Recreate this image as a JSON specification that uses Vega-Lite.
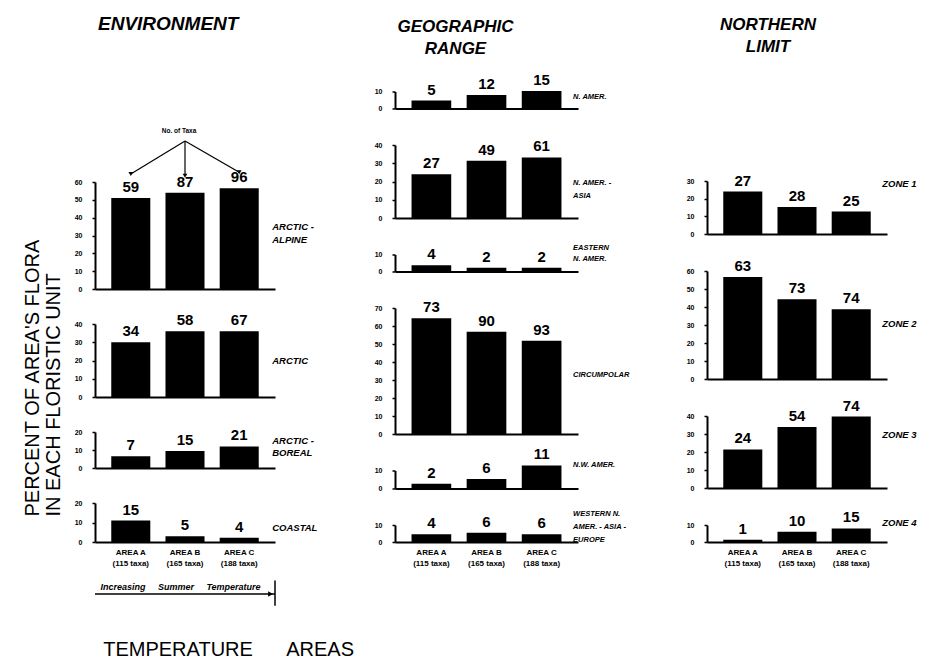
{
  "$schema": "https://vega.github.io/schema/vega-lite/v6.json",
  "background": "white",
  "padding": {"left": 23, "top": 15, "right": 5, "bottom": 0},
  "data": {"values": [
    {"panel": "AA", "area": "AREA A", "pct": 51, "n": 59},
    {"panel": "AA", "area": "AREA B", "pct": 54, "n": 87},
    {"panel": "AA", "area": "AREA C", "pct": 56.5, "n": 96},
    {"panel": "AR", "area": "AREA A", "pct": 30, "n": 34},
    {"panel": "AR", "area": "AREA B", "pct": 36, "n": 58},
    {"panel": "AR", "area": "AREA C", "pct": 36, "n": 67},
    {"panel": "AB", "area": "AREA A", "pct": 6.5, "n": 7},
    {"panel": "AB", "area": "AREA B", "pct": 9.5, "n": 15},
    {"panel": "AB", "area": "AREA C", "pct": 12, "n": 21},
    {"panel": "CO", "area": "AREA A", "pct": 11, "n": 15},
    {"panel": "CO", "area": "AREA B", "pct": 3, "n": 5},
    {"panel": "CO", "area": "AREA C", "pct": 2.2, "n": 4},
    {"panel": "NA", "area": "AREA A", "pct": 4.7, "n": 5},
    {"panel": "NA", "area": "AREA B", "pct": 8, "n": 12},
    {"panel": "NA", "area": "AREA C", "pct": 10.3, "n": 15},
    {"panel": "NAA", "area": "AREA A", "pct": 24, "n": 27},
    {"panel": "NAA", "area": "AREA B", "pct": 31.4, "n": 49},
    {"panel": "NAA", "area": "AREA C", "pct": 33.2, "n": 61},
    {"panel": "EN", "area": "AREA A", "pct": 3.7, "n": 4},
    {"panel": "EN", "area": "AREA B", "pct": 2.2, "n": 2},
    {"panel": "EN", "area": "AREA C", "pct": 2.2, "n": 2},
    {"panel": "CI", "area": "AREA A", "pct": 64.3, "n": 73},
    {"panel": "CI", "area": "AREA B", "pct": 56.8, "n": 90},
    {"panel": "CI", "area": "AREA C", "pct": 51.8, "n": 93},
    {"panel": "NW", "area": "AREA A", "pct": 2.6, "n": 2},
    {"panel": "NW", "area": "AREA B", "pct": 5.3, "n": 6},
    {"panel": "NW", "area": "AREA C", "pct": 12.8, "n": 11},
    {"panel": "WE", "area": "AREA A", "pct": 4.6, "n": 4},
    {"panel": "WE", "area": "AREA B", "pct": 5.5, "n": 6},
    {"panel": "WE", "area": "AREA C", "pct": 4.6, "n": 6},
    {"panel": "Z1", "area": "AREA A", "pct": 24, "n": 27},
    {"panel": "Z1", "area": "AREA B", "pct": 15.3, "n": 28},
    {"panel": "Z1", "area": "AREA C", "pct": 12.7, "n": 25},
    {"panel": "Z2", "area": "AREA A", "pct": 56.7, "n": 63},
    {"panel": "Z2", "area": "AREA B", "pct": 44.3, "n": 73},
    {"panel": "Z2", "area": "AREA C", "pct": 38.7, "n": 74},
    {"panel": "Z3", "area": "AREA A", "pct": 21.4, "n": 24},
    {"panel": "Z3", "area": "AREA B", "pct": 33.9, "n": 54},
    {"panel": "Z3", "area": "AREA C", "pct": 39.7, "n": 74},
    {"panel": "Z4", "area": "AREA A", "pct": 1.3, "n": 1},
    {"panel": "Z4", "area": "AREA B", "pct": 6, "n": 10},
    {"panel": "Z4", "area": "AREA C", "pct": 8, "n": 15}
  ]},
  "title": {"text": "TEMPERATURE\u00a0\u00a0\u00a0\u00a0\u00a0\u00a0AREAS", "orient": "bottom", "anchor": "start", "baseline": "top", "dx": 80, "offset": 33, "fontSize": 20, "fontWeight": "normal", "color": "black"},
  "vconcat": [
    {
      "title": {"text": ["PERCENT OF AREA'S FLORA", "IN EACH FLORISTIC UNIT"], "orient": "left", "anchor": "start", "dx": 90, "offset": 10, "fontSize": 20, "fontWeight": "normal", "lineHeight": 21, "color": "black"},
      "spacing": 56,
      "hconcat": [
        {
          "bounds": "flush",
          "spacing": 35,
          "vconcat": [
            {
              "width": 180, "height": 96,
              "title": {"text": "ENVIRONMENT", "anchor": "start", "dx": 3, "offset": -2, "baseline": "bottom", "fontSize": 19, "fontStyle": "italic", "fontWeight": "bold"},
              "data": {"values": []},
              "mark": {"type": "point", "opacity": 0},
              "encoding": {}
            },
            {
              "width": 180, "height": 107,
              "transform": [{"filter": "datum.panel == 'AA'"}],
              "encoding": {
                "x": {"field": "area", "type": "nominal", "scale": {"paddingInner": 0.28, "paddingOuter": 0.3}, "axis": {"labels": false, "title": null}},
                "y": {"field": "pct", "type": "quantitative", "scale": {"domain": [0, 60], "nice": false}, "axis": {"values": [0, 10, 20, 30, 40, 50, 60], "title": null}}
              },
              "layer": [
                {"mark": {"type": "bar"}},
                {"mark": {"type": "text", "baseline": "bottom", "dy": -3, "fontSize": 15, "fontWeight": "bold"}, "encoding": {"text": {"field": "n"}}},
                {
                  "data": {"values": [
                    {"arrow": "a", "area": "AREA B", "h": 83}, {"arrow": "a", "area": "AREA A", "h": 64.5},
                    {"arrow": "b", "area": "AREA B", "h": 83}, {"arrow": "b", "area": "AREA B", "h": 63.5},
                    {"arrow": "c", "area": "AREA B", "h": 83}, {"arrow": "c", "area": "AREA C", "h": 65.5}
                  ]},
                  "mark": {"type": "line", "strokeWidth": 1.2},
                  "encoding": {"y": {"field": "h", "type": "quantitative", "scale": {"domain": [0, 60], "nice": false}}, "detail": {"field": "arrow"}, "order": {"field": "h"}}
                },
                {
                  "data": {"values": [
                    {"arrow": "a", "area": "AREA A", "h": 64.5},
                    {"arrow": "b", "area": "AREA B", "h": 63.5},
                    {"arrow": "c", "area": "AREA C", "h": 65.5}
                  ]},
                  "mark": {"type": "point", "shape": "triangle-down", "filled": true, "size": 22, "opacity": 1},
                  "encoding": {"y": {"field": "h", "type": "quantitative", "scale": {"domain": [0, 60], "nice": false}}}
                },
                {
                  "data": {"values": [{"area": "AREA B", "label": "No. of Taxa", "h": 86.5}]},
                  "mark": {"type": "text", "fontSize": 6.5, "fontWeight": "bold", "baseline": "bottom", "dx": -6, "dy": -1},
                  "encoding": {"y": {"field": "h", "type": "quantitative", "scale": {"domain": [0, 60], "nice": false}}, "text": {"field": "label"}}
                },
                {
                  "data": {"values": [{"area": "AREA C", "label": "ARCTIC -\nALPINE", "h": 35}]},
                  "mark": {"type": "text", "align": "left", "baseline": "middle", "lineBreak": "\n", "dx": 33, "fontSize": 9.5, "fontStyle": "italic", "fontWeight": "bold", "lineHeight": 13},
                  "encoding": {"y": {"field": "h", "type": "quantitative", "scale": {"domain": [0, 60], "nice": false}}, "text": {"field": "label"}}
                }
              ]
            },
            {
              "width": 180, "height": 73,
              "transform": [{"filter": "datum.panel == 'AR'"}],
              "encoding": {
                "x": {"field": "area", "type": "nominal", "scale": {"paddingInner": 0.28, "paddingOuter": 0.3}, "axis": {"labels": false, "title": null}},
                "y": {"field": "pct", "type": "quantitative", "scale": {"domain": [0, 40], "nice": false}, "axis": {"values": [0, 10, 20, 30, 40], "title": null}}
              },
              "layer": [
                {"mark": {"type": "bar"}},
                {"mark": {"type": "text", "baseline": "bottom", "dy": -3, "fontSize": 15, "fontWeight": "bold"}, "encoding": {"text": {"field": "n"}}},
                {
                  "data": {"values": [{"area": "AREA C", "label": "ARCTIC", "h": 20}]},
                  "mark": {"type": "text", "align": "left", "baseline": "middle", "lineBreak": "\n", "dx": 33, "fontSize": 9.5, "fontStyle": "italic", "fontWeight": "bold", "lineHeight": 13},
                  "encoding": {"y": {"field": "h", "type": "quantitative", "scale": {"domain": [0, 40], "nice": false}}, "text": {"field": "label"}}
                }
              ]
            },
            {
              "width": 180, "height": 36,
              "transform": [{"filter": "datum.panel == 'AB'"}],
              "encoding": {
                "x": {"field": "area", "type": "nominal", "scale": {"paddingInner": 0.28, "paddingOuter": 0.3}, "axis": {"labels": false, "title": null}},
                "y": {"field": "pct", "type": "quantitative", "scale": {"domain": [0, 20], "nice": false}, "axis": {"values": [0, 10, 20], "title": null}}
              },
              "layer": [
                {"mark": {"type": "bar"}},
                {"mark": {"type": "text", "baseline": "bottom", "dy": -3, "fontSize": 15, "fontWeight": "bold"}, "encoding": {"text": {"field": "n"}}},
                {
                  "data": {"values": [{"area": "AREA C", "label": "ARCTIC -\nBOREAL", "h": 15}]},
                  "mark": {"type": "text", "align": "left", "baseline": "middle", "lineBreak": "\n", "dx": 33, "fontSize": 9.5, "fontStyle": "italic", "fontWeight": "bold", "lineHeight": 12},
                  "encoding": {"y": {"field": "h", "type": "quantitative", "scale": {"domain": [0, 20], "nice": false}}, "text": {"field": "label"}}
                }
              ]
            },
            {
              "width": 180, "height": 39,
              "transform": [{"filter": "datum.panel == 'CO'"}],
              "encoding": {
                "x": {"field": "area", "type": "nominal", "scale": {"paddingInner": 0.28, "paddingOuter": 0.3}, "axis": {"labels": true, "title": null, "labelExpr": "[datum.label, datum.label == 'AREA A' ? '(115 taxa)' : datum.label == 'AREA B' ? '(165 taxa)' : '(188 taxa)']"}},
                "y": {"field": "pct", "type": "quantitative", "scale": {"domain": [0, 20], "nice": false}, "axis": {"values": [0, 10, 20], "title": null}}
              },
              "layer": [
                {"mark": {"type": "bar"}},
                {"mark": {"type": "text", "baseline": "bottom", "dy": -3, "fontSize": 15, "fontWeight": "bold"}, "encoding": {"text": {"field": "n"}}},
                {
                  "data": {"values": [{"area": "AREA C", "label": "COASTAL", "h": 7}]},
                  "mark": {"type": "text", "align": "left", "baseline": "middle", "lineBreak": "\n", "dx": 33, "fontSize": 9.5, "fontStyle": "italic", "fontWeight": "bold", "lineHeight": 13},
                  "encoding": {"y": {"field": "h", "type": "quantitative", "scale": {"domain": [0, 20], "nice": false}}, "text": {"field": "label"}}
                }
              ]
            },
            {
              "width": 180, "height": 24,
              "data": {"values": [{"label": "Increasing\u00a0\u00a0\u00a0\u00a0\u00a0Summer\u00a0\u00a0\u00a0\u00a0\u00a0Temperature"}]},
              "layer": [
                {"mark": {"type": "rule", "strokeWidth": 1.5}, "encoding": {"x": {"datum": 0, "type": "quantitative", "scale": {"domain": [0, 1], "nice": false}, "axis": null}, "x2": {"datum": 1}, "y": {"datum": 0.29, "type": "quantitative", "scale": {"domain": [0, 1], "nice": false}, "axis": null}}},
                {"mark": {"type": "rule", "strokeWidth": 1.5}, "encoding": {"x": {"datum": 1, "type": "quantitative", "scale": {"domain": [0, 1], "nice": false}, "axis": null}, "y": {"datum": -0.2, "type": "quantitative", "scale": {"domain": [0, 1], "nice": false}, "axis": null}, "y2": {"datum": 0.85}}},
                {"mark": {"type": "point", "shape": "triangle-right", "filled": true, "size": 30, "opacity": 1}, "encoding": {"x": {"datum": 0.975, "type": "quantitative", "scale": {"domain": [0, 1], "nice": false}, "axis": null}, "y": {"datum": 0.29, "type": "quantitative", "scale": {"domain": [0, 1], "nice": false}, "axis": null}}},
                {"mark": {"type": "text", "align": "left", "baseline": "bottom", "dy": -2, "fontSize": 9, "fontStyle": "italic", "fontWeight": "bold"}, "encoding": {"x": {"datum": 0.03, "type": "quantitative", "scale": {"domain": [0, 1], "nice": false}, "axis": null}, "y": {"datum": 0.29, "type": "quantitative", "scale": {"domain": [0, 1], "nice": false}, "axis": null}, "text": {"field": "label"}}}
              ]
            }
          ]
        },
        {
          "bounds": "flush",
          "spacing": 36.5,
          "vconcat": [
            {
              "width": 183, "height": 3.5,
              "title": {"text": ["GEOGRAPHIC", "RANGE"], "anchor": "middle", "dx": -31, "offset": -24, "baseline": "bottom", "lineHeight": 22, "fontSize": 17, "fontStyle": "italic", "fontWeight": "bold"},
              "data": {"values": []},
              "mark": {"type": "point", "opacity": 0},
              "encoding": {}
            },
            {
              "width": 183, "height": 17,
              "transform": [{"filter": "datum.panel == 'NA'"}],
              "encoding": {
                "x": {"field": "area", "type": "nominal", "scale": {"paddingInner": 0.28, "paddingOuter": 0.3}, "axis": {"labels": false, "title": null}},
                "y": {"field": "pct", "type": "quantitative", "scale": {"domain": [0, 10], "nice": false}, "axis": {"values": [0, 10], "title": null}}
              },
              "layer": [
                {"mark": {"type": "bar"}},
                {"mark": {"type": "text", "baseline": "bottom", "dy": -3, "fontSize": 15, "fontWeight": "bold"}, "encoding": {"text": {"field": "n"}}},
                {
                  "data": {"values": [{"area": "AREA C", "label": "N. AMER.", "h": 7}]},
                  "mark": {"type": "text", "align": "left", "baseline": "middle", "lineBreak": "\n", "dx": 31.5, "fontSize": 7.5, "fontStyle": "italic", "fontWeight": "bold", "lineHeight": 12},
                  "encoding": {"y": {"field": "h", "type": "quantitative", "scale": {"domain": [0, 10], "nice": false}}, "text": {"field": "label"}}
                }
              ]
            },
            {
              "width": 183, "height": 73,
              "transform": [{"filter": "datum.panel == 'NAA'"}],
              "encoding": {
                "x": {"field": "area", "type": "nominal", "scale": {"paddingInner": 0.28, "paddingOuter": 0.3}, "axis": {"labels": false, "title": null}},
                "y": {"field": "pct", "type": "quantitative", "scale": {"domain": [0, 40], "nice": false}, "axis": {"values": [0, 10, 20, 30, 40], "title": null}}
              },
              "layer": [
                {"mark": {"type": "bar"}},
                {"mark": {"type": "text", "baseline": "bottom", "dy": -3, "fontSize": 15, "fontWeight": "bold"}, "encoding": {"text": {"field": "n"}}},
                {
                  "data": {"values": [{"area": "AREA C", "label": "N. AMER. -\nASIA", "h": 19}]},
                  "mark": {"type": "text", "align": "left", "baseline": "middle", "lineBreak": "\n", "dx": 31.5, "fontSize": 7.5, "fontStyle": "italic", "fontWeight": "bold", "lineHeight": 13},
                  "encoding": {"y": {"field": "h", "type": "quantitative", "scale": {"domain": [0, 40], "nice": false}}, "text": {"field": "label"}}
                }
              ]
            },
            {
              "width": 183, "height": 17,
              "transform": [{"filter": "datum.panel == 'EN'"}],
              "encoding": {
                "x": {"field": "area", "type": "nominal", "scale": {"paddingInner": 0.28, "paddingOuter": 0.3}, "axis": {"labels": false, "title": null}},
                "y": {"field": "pct", "type": "quantitative", "scale": {"domain": [0, 10], "nice": false}, "axis": {"values": [0, 10], "title": null}}
              },
              "layer": [
                {"mark": {"type": "bar"}},
                {"mark": {"type": "text", "baseline": "bottom", "dy": -3, "fontSize": 15, "fontWeight": "bold"}, "encoding": {"text": {"field": "n"}}},
                {
                  "data": {"values": [{"area": "AREA C", "label": "EASTERN\nN. AMER.", "h": 13.7}]},
                  "mark": {"type": "text", "align": "left", "baseline": "middle", "lineBreak": "\n", "dx": 31.5, "fontSize": 7.5, "fontStyle": "italic", "fontWeight": "bold", "lineHeight": 11},
                  "encoding": {"y": {"field": "h", "type": "quantitative", "scale": {"domain": [0, 10], "nice": false}}, "text": {"field": "label"}}
                }
              ]
            },
            {
              "width": 183, "height": 126,
              "transform": [{"filter": "datum.panel == 'CI'"}],
              "encoding": {
                "x": {"field": "area", "type": "nominal", "scale": {"paddingInner": 0.28, "paddingOuter": 0.3}, "axis": {"labels": false, "title": null}},
                "y": {"field": "pct", "type": "quantitative", "scale": {"domain": [0, 70], "nice": false}, "axis": {"values": [0, 10, 20, 30, 40, 50, 60, 70], "title": null}}
              },
              "layer": [
                {"mark": {"type": "bar"}},
                {"mark": {"type": "text", "baseline": "bottom", "dy": -3, "fontSize": 15, "fontWeight": "bold"}, "encoding": {"text": {"field": "n"}}},
                {
                  "data": {"values": [{"area": "AREA C", "label": "CIRCUMPOLAR", "h": 33}]},
                  "mark": {"type": "text", "align": "left", "baseline": "middle", "lineBreak": "\n", "dx": 31.5, "fontSize": 7.5, "fontStyle": "italic", "fontWeight": "bold", "lineHeight": 12},
                  "encoding": {"y": {"field": "h", "type": "quantitative", "scale": {"domain": [0, 70], "nice": false}}, "text": {"field": "label"}}
                }
              ]
            },
            {
              "width": 183, "height": 18,
              "transform": [{"filter": "datum.panel == 'NW'"}],
              "encoding": {
                "x": {"field": "area", "type": "nominal", "scale": {"paddingInner": 0.28, "paddingOuter": 0.3}, "axis": {"labels": false, "title": null}},
                "y": {"field": "pct", "type": "quantitative", "scale": {"domain": [0, 10], "nice": false}, "axis": {"values": [0, 10], "title": null}}
              },
              "layer": [
                {"mark": {"type": "bar"}},
                {"mark": {"type": "text", "baseline": "bottom", "dy": -3, "fontSize": 15, "fontWeight": "bold"}, "encoding": {"text": {"field": "n"}}},
                {
                  "data": {"values": [{"area": "AREA C", "label": "N.W. AMER.", "h": 12.8}]},
                  "mark": {"type": "text", "align": "left", "baseline": "middle", "lineBreak": "\n", "dx": 31.5, "fontSize": 7.5, "fontStyle": "italic", "fontWeight": "bold", "lineHeight": 12},
                  "encoding": {"y": {"field": "h", "type": "quantitative", "scale": {"domain": [0, 10], "nice": false}}, "text": {"field": "label"}}
                }
              ]
            },
            {
              "width": 183, "height": 17,
              "transform": [{"filter": "datum.panel == 'WE'"}],
              "encoding": {
                "x": {"field": "area", "type": "nominal", "scale": {"paddingInner": 0.28, "paddingOuter": 0.3}, "axis": {"labels": true, "title": null, "labelExpr": "[datum.label, datum.label == 'AREA A' ? '(115 taxa)' : datum.label == 'AREA B' ? '(165 taxa)' : '(188 taxa)']"}},
                "y": {"field": "pct", "type": "quantitative", "scale": {"domain": [0, 10], "nice": false}, "axis": {"values": [0, 10], "title": null}}
              },
              "layer": [
                {"mark": {"type": "bar"}},
                {"mark": {"type": "text", "baseline": "bottom", "dy": -3, "fontSize": 15, "fontWeight": "bold"}, "encoding": {"text": {"field": "n"}}},
                {
                  "data": {"values": [{"area": "AREA C", "label": "WESTERN N.\nAMER. - ASIA -\nEUROPE", "h": 16.4}]},
                  "mark": {"type": "text", "align": "left", "baseline": "middle", "lineBreak": "\n", "dx": 31.5, "fontSize": 7.5, "fontStyle": "italic", "fontWeight": "bold", "lineHeight": 13},
                  "encoding": {"y": {"field": "h", "type": "quantitative", "scale": {"domain": [0, 10], "nice": false}}, "text": {"field": "label"}}
                }
              ]
            }
          ]
        },
        {
          "bounds": "flush",
          "spacing": 37,
          "vconcat": [
            {
              "width": 180, "height": 93,
              "title": {"text": ["NORTHERN", "LIMIT"], "anchor": "middle", "dx": -29, "offset": -22, "baseline": "bottom", "lineHeight": 22, "fontSize": 17, "fontStyle": "italic", "fontWeight": "bold"},
              "data": {"values": []},
              "mark": {"type": "point", "opacity": 0},
              "encoding": {}
            },
            {
              "width": 180, "height": 53,
              "transform": [{"filter": "datum.panel == 'Z1'"}],
              "encoding": {
                "x": {"field": "area", "type": "nominal", "scale": {"paddingInner": 0.28, "paddingOuter": 0.3}, "axis": {"labels": false, "title": null}},
                "y": {"field": "pct", "type": "quantitative", "scale": {"domain": [0, 30], "nice": false}, "axis": {"values": [0, 10, 20, 30], "title": null}}
              },
              "layer": [
                {"mark": {"type": "bar"}},
                {"mark": {"type": "text", "baseline": "bottom", "dy": -3, "fontSize": 15, "fontWeight": "bold"}, "encoding": {"text": {"field": "n"}}},
                {
                  "data": {"values": [{"area": "AREA C", "label": "ZONE 1", "h": 28.3}]},
                  "mark": {"type": "text", "align": "left", "baseline": "middle", "dx": 31, "fontSize": 9.5, "fontStyle": "italic", "fontWeight": "bold"},
                  "encoding": {"y": {"field": "h", "type": "quantitative", "scale": {"domain": [0, 30], "nice": false}}, "text": {"field": "label"}}
                }
              ]
            },
            {
              "width": 180, "height": 108,
              "transform": [{"filter": "datum.panel == 'Z2'"}],
              "encoding": {
                "x": {"field": "area", "type": "nominal", "scale": {"paddingInner": 0.28, "paddingOuter": 0.3}, "axis": {"labels": false, "title": null}},
                "y": {"field": "pct", "type": "quantitative", "scale": {"domain": [0, 60], "nice": false}, "axis": {"values": [0, 10, 20, 30, 40, 50, 60], "title": null}}
              },
              "layer": [
                {"mark": {"type": "bar"}},
                {"mark": {"type": "text", "baseline": "bottom", "dy": -3, "fontSize": 15, "fontWeight": "bold"}, "encoding": {"text": {"field": "n"}}},
                {
                  "data": {"values": [{"area": "AREA C", "label": "ZONE 2", "h": 30.6}]},
                  "mark": {"type": "text", "align": "left", "baseline": "middle", "dx": 31, "fontSize": 9.5, "fontStyle": "italic", "fontWeight": "bold"},
                  "encoding": {"y": {"field": "h", "type": "quantitative", "scale": {"domain": [0, 60], "nice": false}}, "text": {"field": "label"}}
                }
              ]
            },
            {
              "width": 180, "height": 72,
              "transform": [{"filter": "datum.panel == 'Z3'"}],
              "encoding": {
                "x": {"field": "area", "type": "nominal", "scale": {"paddingInner": 0.28, "paddingOuter": 0.3}, "axis": {"labels": false, "title": null}},
                "y": {"field": "pct", "type": "quantitative", "scale": {"domain": [0, 40], "nice": false}, "axis": {"values": [0, 10, 20, 30, 40], "title": null}}
              },
              "layer": [
                {"mark": {"type": "bar"}},
                {"mark": {"type": "text", "baseline": "bottom", "dy": -3, "fontSize": 15, "fontWeight": "bold"}, "encoding": {"text": {"field": "n"}}},
                {
                  "data": {"values": [{"area": "AREA C", "label": "ZONE 3", "h": 29.4}]},
                  "mark": {"type": "text", "align": "left", "baseline": "middle", "dx": 31, "fontSize": 9.5, "fontStyle": "italic", "fontWeight": "bold"},
                  "encoding": {"y": {"field": "h", "type": "quantitative", "scale": {"domain": [0, 40], "nice": false}}, "text": {"field": "label"}}
                }
              ]
            },
            {
              "width": 180, "height": 17,
              "transform": [{"filter": "datum.panel == 'Z4'"}],
              "encoding": {
                "x": {"field": "area", "type": "nominal", "scale": {"paddingInner": 0.28, "paddingOuter": 0.3}, "axis": {"labels": true, "title": null, "labelExpr": "[datum.label, datum.label == 'AREA A' ? '(115 taxa)' : datum.label == 'AREA B' ? '(165 taxa)' : '(188 taxa)']"}},
                "y": {"field": "pct", "type": "quantitative", "scale": {"domain": [0, 10], "nice": false}, "axis": {"values": [0, 10], "title": null}}
              },
              "layer": [
                {"mark": {"type": "bar"}},
                {"mark": {"type": "text", "baseline": "bottom", "dy": -3, "fontSize": 15, "fontWeight": "bold"}, "encoding": {"text": {"field": "n"}}},
                {
                  "data": {"values": [{"area": "AREA C", "label": "ZONE 4", "h": 11.2}]},
                  "mark": {"type": "text", "align": "left", "baseline": "middle", "dx": 31, "fontSize": 9.5, "fontStyle": "italic", "fontWeight": "bold"},
                  "encoding": {"y": {"field": "h", "type": "quantitative", "scale": {"domain": [0, 10], "nice": false}}, "text": {"field": "label"}}
                }
              ]
            }
          ]
        }
      ]
    }
  ],
  "config": {
    "font": "Liberation Sans",
    "view": {"stroke": null},
    "axis": {"grid": false, "domainColor": "black", "tickColor": "black", "labelColor": "black", "labelFontWeight": "bold", "titleColor": "black", "labelOverlap": false, "labelFlush": false},
    "axisY": {"domainWidth": 2, "tickSize": 3, "tickWidth": 1.5, "labelFontSize": 7, "labelPadding": 10},
    "axisX": {"domainWidth": 2, "ticks": false, "labelAngle": 0, "labelFontSize": 8, "labelPadding": 6, "labelLineHeight": 11},
    "bar": {"color": "black"},
    "text": {"color": "black"},
    "line": {"color": "black"},
    "rule": {"color": "black"},
    "point": {"color": "black"},
    "title": {"color": "black"}
  }
}
